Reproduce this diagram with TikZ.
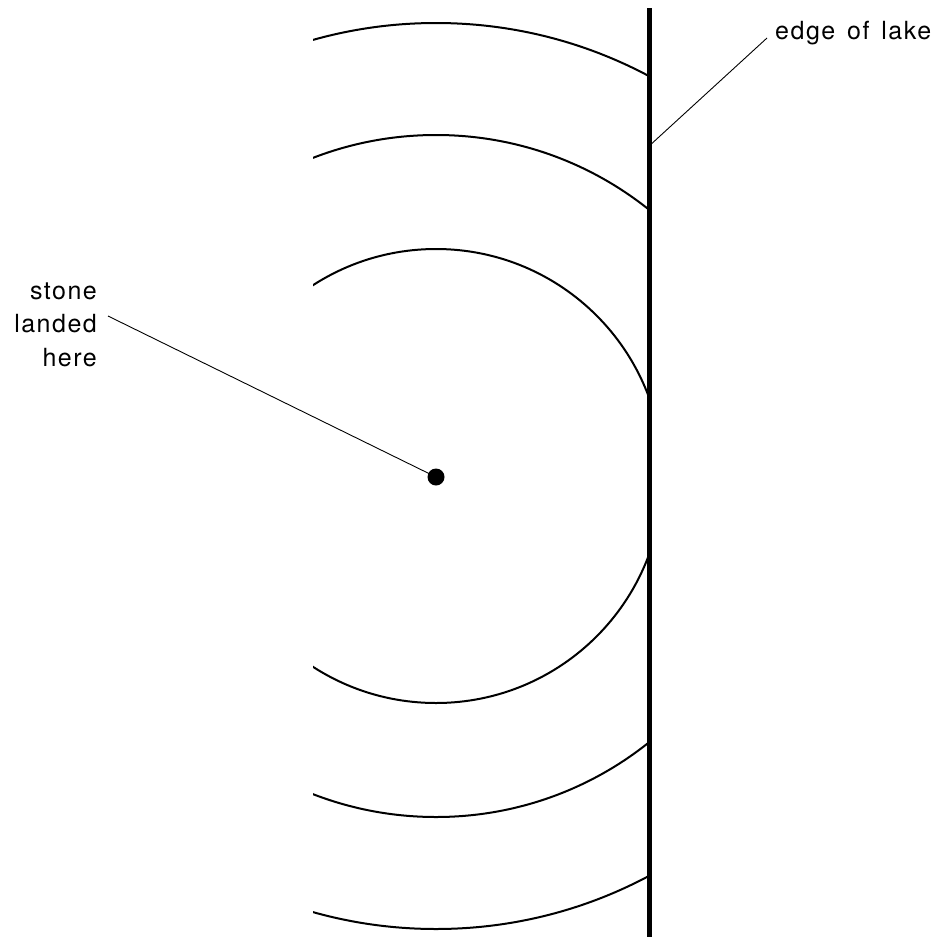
\documentclass[tikz,border=0pt]{standalone}
\usepackage{fontspec}
\setmainfont{TeX Gyre Heros}[LetterSpace=6]
\newfontfamily\edgefont{TeX Gyre Heros}[LetterSpace=6,WordSpace=1.4]
\begin{document}
\begin{tikzpicture}[x=1pt,y=-1pt,
  wave/.style={line width=2pt},
  shore/.style={line width=5pt},
  leader/.style={line width=0.9pt},
  lbl/.style={font=\fontsize{25}{33.5}\selectfont, inner sep=0pt}]
\useasboundingbox (0,0) rectangle (939,937);
% shore line
\coordinate (shoretop) at (649.5,8);
\coordinate (shorebot) at (649.5,937);
\draw[shore] (shoretop) -- (shorebot);
% ripples
\coordinate (c) at (436,476);
\begin{scope}
  \clip (313,0) rectangle (647.5,937);
  \draw[wave] (c) circle[radius=227pt];
  \draw[wave] (c) circle[radius=341pt];
  \draw[wave] (c) circle[radius=453pt];
\end{scope}
% stone
\node[circle, fill=black, inner sep=0pt, minimum size=17pt] (dot) at (436,477) {};
% labels
\node[lbl, align=right, anchor=base east] (stone) at (97,366) {stone\\landed\\here};
\coordinate (stonept) at (108,316);
\draw[leader] (stonept) -- (dot.center);
\node[lbl, anchor=base west, font=\edgefont\fontsize{25}{32}\selectfont] (edge) at (775,39) {edge of lake};
\coordinate (edgept) at (767,38);
\coordinate (shorept) at (648,147);
\draw[leader] (edgept) -- (shorept);
\end{tikzpicture}
\end{document}
